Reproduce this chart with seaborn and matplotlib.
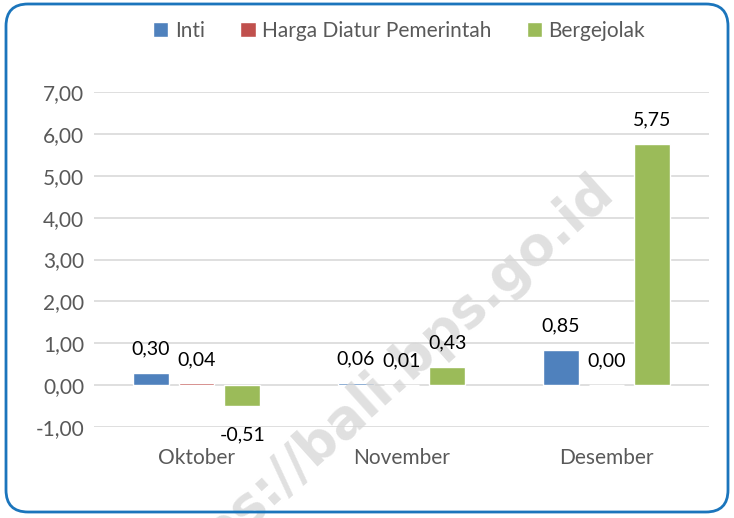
import matplotlib
matplotlib.use("Agg")
import matplotlib.pyplot as plt
import seaborn as sns
import pandas as pd
from matplotlib.patches import FancyBboxPatch
from matplotlib.ticker import FuncFormatter, MultipleLocator

months = ["Oktober", "November", "Desember"]
series = ["Inti", "Harga Diatur Pemerintah", "Bergejolak"]
inti = [0.30, 0.06, 0.85]
harga = [0.04, 0.01, 0.00]
bergejolak = [-0.51, 0.43, 5.75]
colors = ["#4F81BD", "#C0504D", "#9BBB59"]

rows = []
for s, vals in zip(series, [inti, harga, bergejolak]):
    for m, v in zip(months, vals):
        rows.append({"Bulan": m, "Komponen": s, "Nilai": v})
df = pd.DataFrame(rows)

sns.set_theme(style="white")
plt.rcParams["font.family"] = ["Lato", "DejaVu Sans"]

fig = plt.figure(figsize=(7.34, 5.18), dpi=100)
ax = fig.add_axes([94 / 734, 1 - 427 / 518, (709 - 94) / 734, (427 - 92) / 518])

sns.barplot(data=df, x="Bulan", y="Nilai", hue="Komponen", order=months,
            hue_order=series, palette=colors, width=0.67, gap=0.22,
            saturation=1, ax=ax, legend=True, zorder=3)

ax.set_ylim(-1, 7)
ax.set_xlim(-0.5, 2.5)
ax.yaxis.set_major_locator(MultipleLocator(1))
ax.yaxis.set_major_formatter(FuncFormatter(lambda v, p: f"{v:.2f}".replace(".", ",")))
ax.grid(axis="y", color="#D9D9D9", linewidth=1.2, zorder=0)
ax.set_axisbelow(True)
for sp in ax.spines.values():
    sp.set_visible(False)
ax.set_xlabel("")
ax.set_ylabel("")
ax.tick_params(axis="both", length=0, labelsize=15, colors="#595959")
ax.tick_params(axis="x", pad=15)
ax.tick_params(axis="y", pad=7)

for cont, vals in zip(ax.containers, [inti, harga, bergejolak]):
    for bar, v in zip(cont, vals):
        cx = bar.get_x() + bar.get_width() / 2
        off = 24 if v >= 0 else -28
        ax.annotate(f"{v:.2f}".replace(".", ","), (cx, v), xytext=(0, off),
                    textcoords="offset pixels", ha="center", va="center",
                    fontsize=14, color="black", annotation_clip=False, zorder=6)

leg = ax.legend(loc="center", bbox_to_anchor=(399 / 734, 1 - 31 / 518),
                bbox_transform=fig.transFigure, ncol=3, frameon=False,
                fontsize=15, handlelength=0.75, handleheight=0.75,
                handletextpad=0.3, columnspacing=1.7)
for t in leg.get_texts():
    t.set_color("#595959")

# watermark (clipped by the figure edge, as in the reference)
ax.text(0.51, 0.245, "https://bali.bps.go.id", rotation=42, fontsize=38,
        fontweight="bold", color="#D6D6D6", alpha=0.75, ha="center", va="center",
        family="DejaVu Sans", transform=fig.transFigure, clip_on=False, zorder=5)

fig.patches.append(FancyBboxPatch((6 / 734, 6 / 518), 722 / 734, 508 / 518,
                                  boxstyle="round,pad=0,rounding_size=0.03",
                                  transform=fig.transFigure, facecolor="none",
                                  edgecolor="#1B75BC", linewidth=2, zorder=20,
                                  mutation_aspect=734 / 518))

fig.savefig("out.png", dpi=100)
